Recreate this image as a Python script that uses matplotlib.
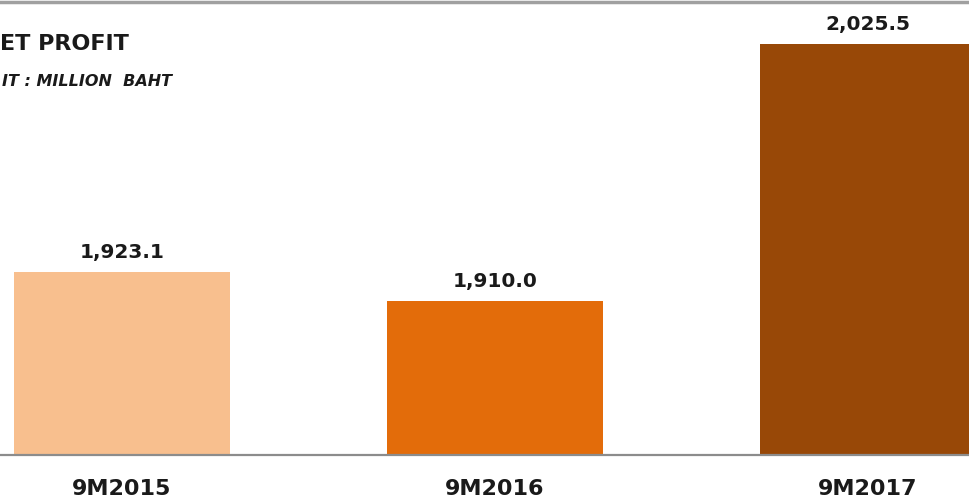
import matplotlib
matplotlib.use("Agg")
import matplotlib.pyplot as plt
from matplotlib.lines import Line2D

categories = ["9M2015", "9M2016", "9M2017"]
values = [1923.1, 1910.0, 2025.5]
value_labels = ["1,923.1", "1,910.0", "2,025.5"]
colors = ["#F8BF8E", "#E36C0A", "#984807"]

W, H = 969, 497
fig = plt.figure(figsize=(W / 100, H / 100), dpi=100)
fig.patch.set_facecolor("white")

ax_bottom_px = 455
ax_top_px = 5
ax = fig.add_axes([0, (H - ax_bottom_px) / H, 1, (ax_bottom_px - ax_top_px) / H])
ax.set_facecolor("none")

x = list(range(len(categories)))
ax.bar(x, values, width=0.58, color=colors, zorder=2)
ax.set_xlim(-0.327, 2.271)
ax.set_ylim(1841.0, 1841.0 + (ax_bottom_px - ax_top_px) / 2.23)

for xi, v, lab in zip(x, values, value_labels):
    ax.annotate(lab, (xi, v), xytext=(0, 7), textcoords="offset points",
                ha="center", va="bottom", fontsize=14.5, fontweight="bold",
                color="#1a1a1a")

for s in ["top", "right", "left"]:
    ax.spines[s].set_visible(False)
ax.spines["bottom"].set_color("#8c8c8c")
ax.spines["bottom"].set_linewidth(1.6)
ax.set_yticks([])
ax.set_xticks(x)
ax.set_xticklabels(categories, fontsize=16, fontweight="bold", color="#1a1a1a")
ax.tick_params(axis="x", length=0, pad=17)

# top border line
fig.add_artist(Line2D([0, 1], [1 - 1.5 / H, 1 - 1.5 / H], color="#a0a0a0",
                      linewidth=2.5, transform=fig.transFigure))

fig.text(0 / W, 1 - 44 / H, "ET PROFIT", ha="left", va="center",
         fontsize=16, fontweight="bold", color="#1a1a1a")
fig.text(2 / W, 1 - 81 / H, "IT : MILLION  BAHT", ha="left", va="center",
         fontsize=11.5, fontweight="bold", fontstyle="italic", color="#1a1a1a")

fig.savefig("out.png", dpi=100)
